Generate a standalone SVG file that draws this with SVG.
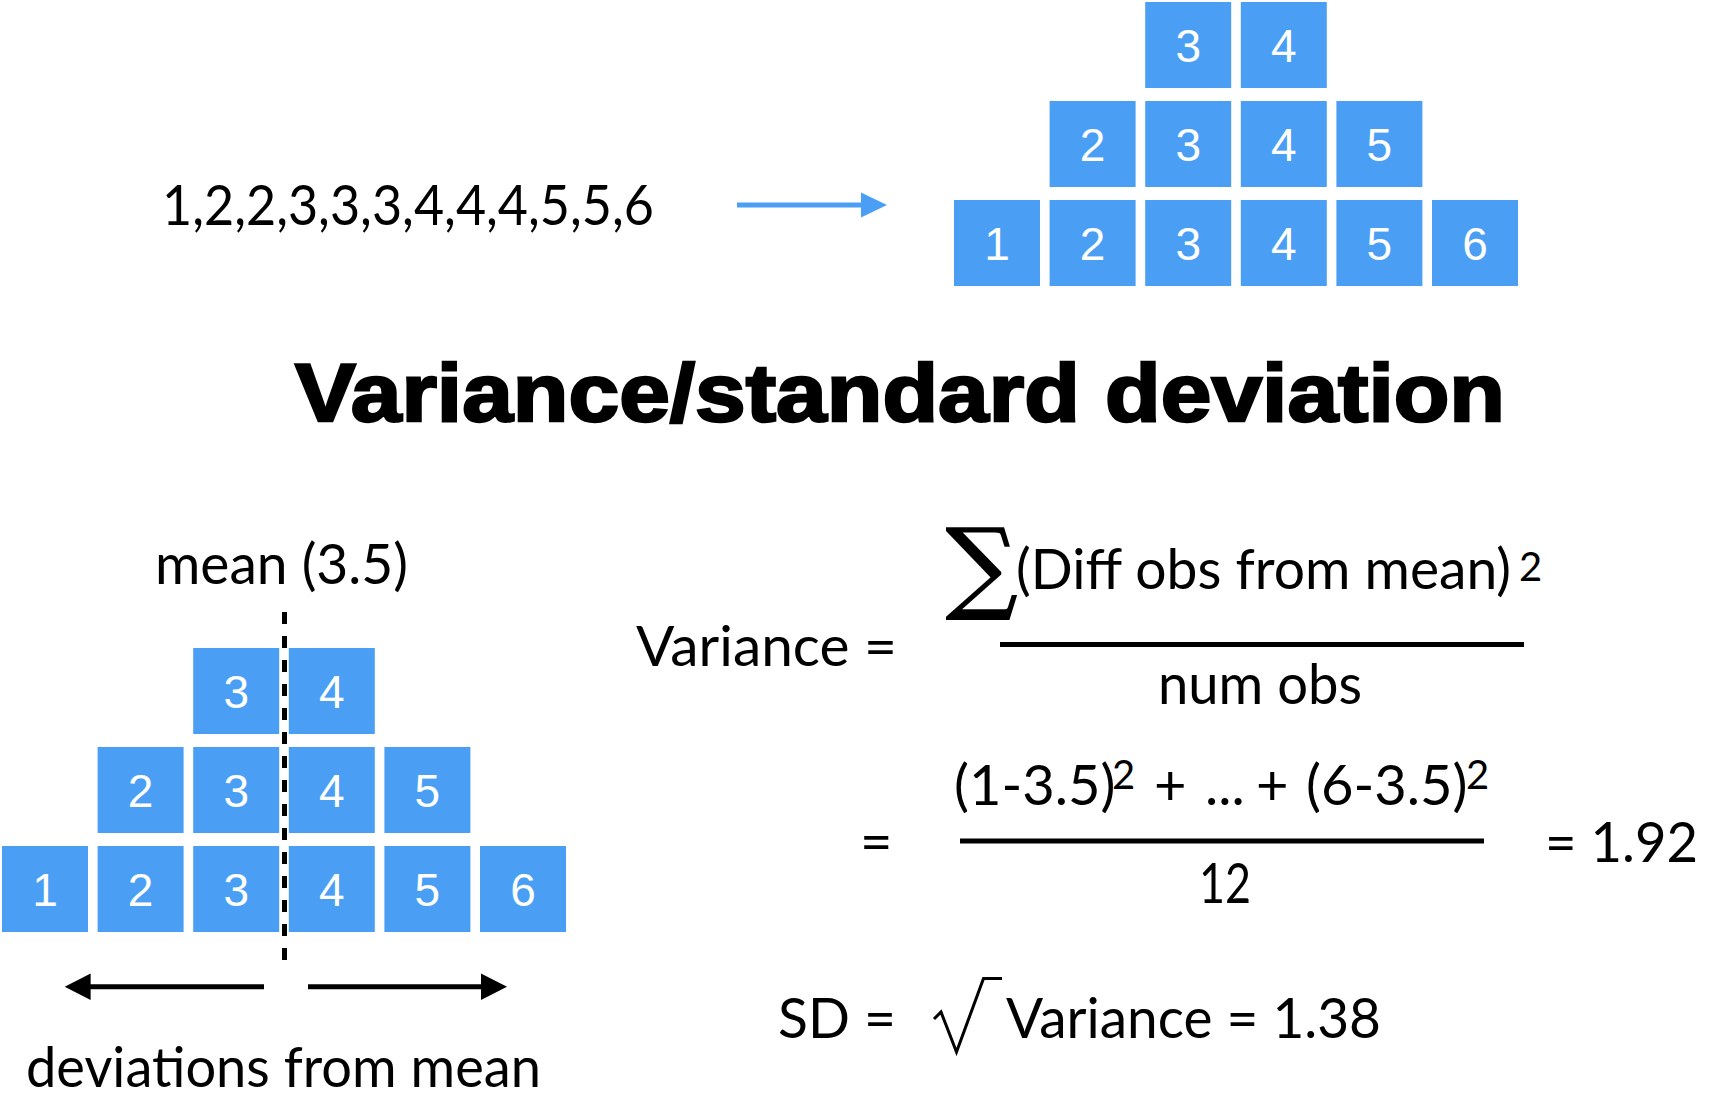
<svg xmlns="http://www.w3.org/2000/svg" width="1728" height="1112" viewBox="0 0 1728 1112">
<style>
.box{fill:#4a9ff5}
.num{font-family:"Liberation Sans",Arial,sans-serif;font-size:46px;fill:#fff;text-anchor:middle}
.t{font-family:Lato,"Open Sans",sans-serif;font-size:56px;fill:#000}
.sup{font-size:40px}
.title{font-family:"Liberation Sans",Arial,sans-serif;font-weight:bold;font-size:82px;fill:#000;stroke:#000;stroke-width:2.5}
.bar{stroke:#000;stroke-width:5}
</style>
<rect width="1728" height="1112" fill="#fff"/>

<g id="data-list"><text class="t" x="162" y="225" textLength="492" lengthAdjust="spacingAndGlyphs">1,2,2,3,3,3,4,4,4,5,5,6</text></g>

<g id="histogram-top">
<g id="top-r1-3"><rect class="box" x="1145.2" y="2" width="86" height="86"/><text class="num" x="1188.2" y="62">3</text></g>
<g id="top-r1-4"><rect class="box" x="1240.8" y="2" width="86" height="86"/><text class="num" x="1283.8" y="62">4</text></g>
<g id="top-r2-2"><rect class="box" x="1049.6" y="101" width="86" height="86"/><text class="num" x="1092.6" y="161">2</text></g>
<g id="top-r2-3"><rect class="box" x="1145.2" y="101" width="86" height="86"/><text class="num" x="1188.2" y="161">3</text></g>
<g id="top-r2-4"><rect class="box" x="1240.8" y="101" width="86" height="86"/><text class="num" x="1283.8" y="161">4</text></g>
<g id="top-r2-5"><rect class="box" x="1336.4" y="101" width="86" height="86"/><text class="num" x="1379.4" y="161">5</text></g>
<g id="top-r3-1"><rect class="box" x="954" y="200" width="86" height="86"/><text class="num" x="997" y="260">1</text></g>
<g id="top-r3-2"><rect class="box" x="1049.6" y="200" width="86" height="86"/><text class="num" x="1092.6" y="260">2</text></g>
<g id="top-r3-3"><rect class="box" x="1145.2" y="200" width="86" height="86"/><text class="num" x="1188.2" y="260">3</text></g>
<g id="top-r3-4"><rect class="box" x="1240.8" y="200" width="86" height="86"/><text class="num" x="1283.8" y="260">4</text></g>
<g id="top-r3-5"><rect class="box" x="1336.4" y="200" width="86" height="86"/><text class="num" x="1379.4" y="260">5</text></g>
<g id="top-r3-6"><rect class="box" x="1432" y="200" width="86" height="86"/><text class="num" x="1475" y="260">6</text></g>
</g>

<g id="title"><text class="title" x="295" y="421" textLength="1210" lengthAdjust="spacingAndGlyphs">Variance/standard deviation</text></g>

<g id="mean-label"><text class="t" x="155" y="584" textLength="253" lengthAdjust="spacingAndGlyphs">mean (3.5)</text></g>

<g id="histogram-bottom">
<g id="bot-r1-3"><rect class="box" x="193.2" y="648" width="86" height="86"/><text class="num" x="236.2" y="708">3</text></g>
<g id="bot-r1-4"><rect class="box" x="288.8" y="648" width="86" height="86"/><text class="num" x="331.8" y="708">4</text></g>
<g id="bot-r2-2"><rect class="box" x="97.6" y="747" width="86" height="86"/><text class="num" x="140.6" y="807">2</text></g>
<g id="bot-r2-3"><rect class="box" x="193.2" y="747" width="86" height="86"/><text class="num" x="236.2" y="807">3</text></g>
<g id="bot-r2-4"><rect class="box" x="288.8" y="747" width="86" height="86"/><text class="num" x="331.8" y="807">4</text></g>
<g id="bot-r2-5"><rect class="box" x="384.4" y="747" width="86" height="86"/><text class="num" x="427.4" y="807">5</text></g>
<g id="bot-r3-1"><rect class="box" x="2" y="846" width="86" height="86"/><text class="num" x="45" y="906">1</text></g>
<g id="bot-r3-2"><rect class="box" x="97.6" y="846" width="86" height="86"/><text class="num" x="140.6" y="906">2</text></g>
<g id="bot-r3-3"><rect class="box" x="193.2" y="846" width="86" height="86"/><text class="num" x="236.2" y="906">3</text></g>
<g id="bot-r3-4"><rect class="box" x="288.8" y="846" width="86" height="86"/><text class="num" x="331.8" y="906">4</text></g>
<g id="bot-r3-5"><rect class="box" x="384.4" y="846" width="86" height="86"/><text class="num" x="427.4" y="906">5</text></g>
<g id="bot-r3-6"><rect class="box" x="480" y="846" width="86" height="86"/><text class="num" x="523" y="906">6</text></g>
</g>

<g id="connectors">
<g id="arrow-blue"><line x1="737" y1="205" x2="864" y2="205" stroke="#4a9ff5" stroke-width="5"/><polygon points="887,205 861,192.5 861,217.5" fill="#4a9ff5"/></g>
<line id="mean-line" x1="284.5" y1="612" x2="284.5" y2="960" stroke="#000" stroke-width="5" stroke-dasharray="12 12"/>
<g id="arrow-left"><line x1="88" y1="986.7" x2="264" y2="986.7" class="bar"/><polygon points="64.7,986.7 90.6,973.4 90.6,1000" fill="#000"/></g>
<g id="arrow-right"><line x1="308" y1="986.7" x2="484" y2="986.7" class="bar"/><polygon points="507,986.7 481,973.4 481,1000" fill="#000"/></g>
</g>

<g id="deviations-label"><text class="t" x="26" y="1087" textLength="515" lengthAdjust="spacingAndGlyphs">deviations from mean</text></g>

<g id="variance-formula">
<text class="t" x="636" y="666" textLength="261" lengthAdjust="spacingAndGlyphs">Variance =</text>
<text x="946" y="600" font-family="DejaVu Serif,serif" font-size="100" fill="#000" stroke="#000" stroke-width="1.5">∑</text>
<text class="t" x="1016" y="589"><tspan textLength="495" lengthAdjust="spacingAndGlyphs">(Diff obs from mean)</tspan><tspan class="sup" x="1519" y="581">2</tspan></text>
<line x1="1000" y1="644.5" x2="1524" y2="644.5" class="bar"/>
<text class="t" x="1158" y="704" textLength="204" lengthAdjust="spacingAndGlyphs">num obs</text>
</g>

<g id="variance-calc">
<text class="t" x="860" y="861">=</text>
<text class="t" x="954" y="805" font-size="49"><tspan>(1-3.5)</tspan><tspan class="sup" x="1112" y="789">2</tspan><tspan x="1154" y="805">+</tspan><tspan x="1205" y="805">...</tspan><tspan x="1256" y="805">+</tspan><tspan x="1306" y="805">(6-3.5)</tspan><tspan class="sup" x="1466" y="789">2</tspan></text>
<line x1="960" y1="841" x2="1484" y2="841" class="bar"/>
<text class="t" x="1199" y="903" font-size="62" textLength="52" lengthAdjust="spacingAndGlyphs">12</text>
<text class="t" x="1545" y="862" textLength="153" lengthAdjust="spacingAndGlyphs">= 1.92</text>
</g>

<g id="sd-formula">
<text class="t" x="778" y="1038" textLength="118" lengthAdjust="spacingAndGlyphs">SD =</text>
<path d="M934,1019 L941,1012 L956.5,1052 L983.5,978.5 L1002,978.5" fill="none" stroke="#000" stroke-width="3" stroke-linejoin="miter"/>
<text class="t" x="1006" y="1038" textLength="375" lengthAdjust="spacingAndGlyphs">Variance = 1.38</text>
</g>
</svg>
